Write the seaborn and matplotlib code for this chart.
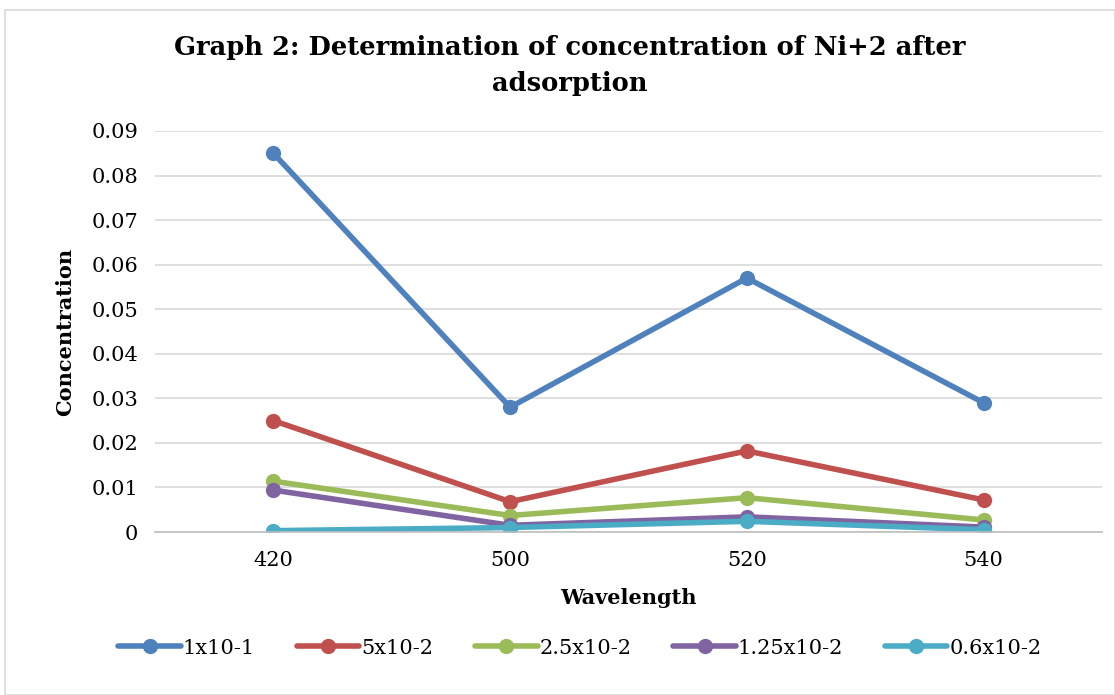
import matplotlib
matplotlib.use("Agg")
import matplotlib.pyplot as plt
import seaborn as sns
import pandas as pd
from matplotlib.patches import Rectangle
from matplotlib.ticker import FuncFormatter, MultipleLocator

wavelengths = ["420", "500", "520", "540"]
series_names = ["1x10-1", "5x10-2", "2.5x10-2", "1.25x10-2", "0.6x10-2"]
s1 = [0.085, 0.028, 0.057, 0.029]
s2 = [0.025, 0.0068, 0.0182, 0.0072]
s3 = [0.0114, 0.0037, 0.0077, 0.0027]
s4 = [0.0094, 0.0015, 0.0034, 0.0011]
s5 = [0.0003, 0.0010, 0.0024, 0.0005]
colors = ["#4F81BD", "#C0504D", "#9BBB59", "#8064A2", "#4BACC6"]

rows = []
for name, vals in zip(series_names, [s1, s2, s3, s4, s5]):
    for w, v in zip(wavelengths, vals):
        rows.append({"Wavelength": w, "Concentration": v, "Series": name})
df = pd.DataFrame(rows)

sns.set_theme(style="white")
plt.rcParams["font.family"] = ["DejaVu Serif"]
plt.rcParams["text.color"] = "black"
plt.rcParams["axes.labelcolor"] = "black"

fig = plt.figure(figsize=(11.15, 6.95), dpi=100)
ax = fig.add_axes([155/1115, 1-532/695, (1102-155)/1115, (532-131)/695])

sns.lineplot(data=df, x="Wavelength", y="Concentration", hue="Series",
             palette=colors, marker="o", markersize=11, linewidth=4.0,
             markeredgewidth=0, sort=False, ax=ax, legend=True)

ax.set_xlim(-0.5, 3.5)
ax.set_ylim(0, 0.09)
ax.yaxis.set_major_locator(MultipleLocator(0.01))
ax.yaxis.set_major_formatter(FuncFormatter(lambda v, p: "0" if abs(v) < 1e-9 else f"{v:.2f}"))
ax.grid(axis="y", color="#d9d9d9", linewidth=1.2)
ax.set_axisbelow(True)
for s in ["left", "right", "top"]:
    ax.spines[s].set_visible(False)
ax.spines["bottom"].set_color("#bfbfbf")
ax.spines["bottom"].set_linewidth(1.2)
ax.tick_params(axis="both", length=0, labelsize=15, colors="black")
ax.tick_params(axis="x", pad=14)
ax.tick_params(axis="y", pad=12)

ax.set_xlabel("Wavelength", fontsize=15, fontweight="bold", labelpad=13, color="black")
ax.set_ylabel("Concentration", fontsize=15, fontweight="bold", labelpad=12, color="black")

ax.get_legend().remove()
handles, labels = ax.get_legend_handles_labels()
fig.legend(handles, labels, loc="center", bbox_to_anchor=(580/1115, 1-648/695),
           ncol=5, frameon=False, fontsize=15, handlelength=3.0,
           columnspacing=2.0, handletextpad=0.1, labelcolor="black")

fig.text(570/1115, 1-48/695, "Graph 2: Determination of concentration of Ni+2 after",
         ha="center", va="center", fontsize=18.5, fontweight="bold", color="black")
fig.text(570/1115, 1-83/695, "adsorption",
         ha="center", va="center", fontsize=18.5, fontweight="bold", color="black")

fig.patches.append(Rectangle((5/1115, 0.0), 1 - 5/1115, 1 - 10/695,
                             transform=fig.transFigure, fill=False,
                             edgecolor="#d9d9d9", linewidth=1.2))

fig.savefig("out.png", dpi=100)
